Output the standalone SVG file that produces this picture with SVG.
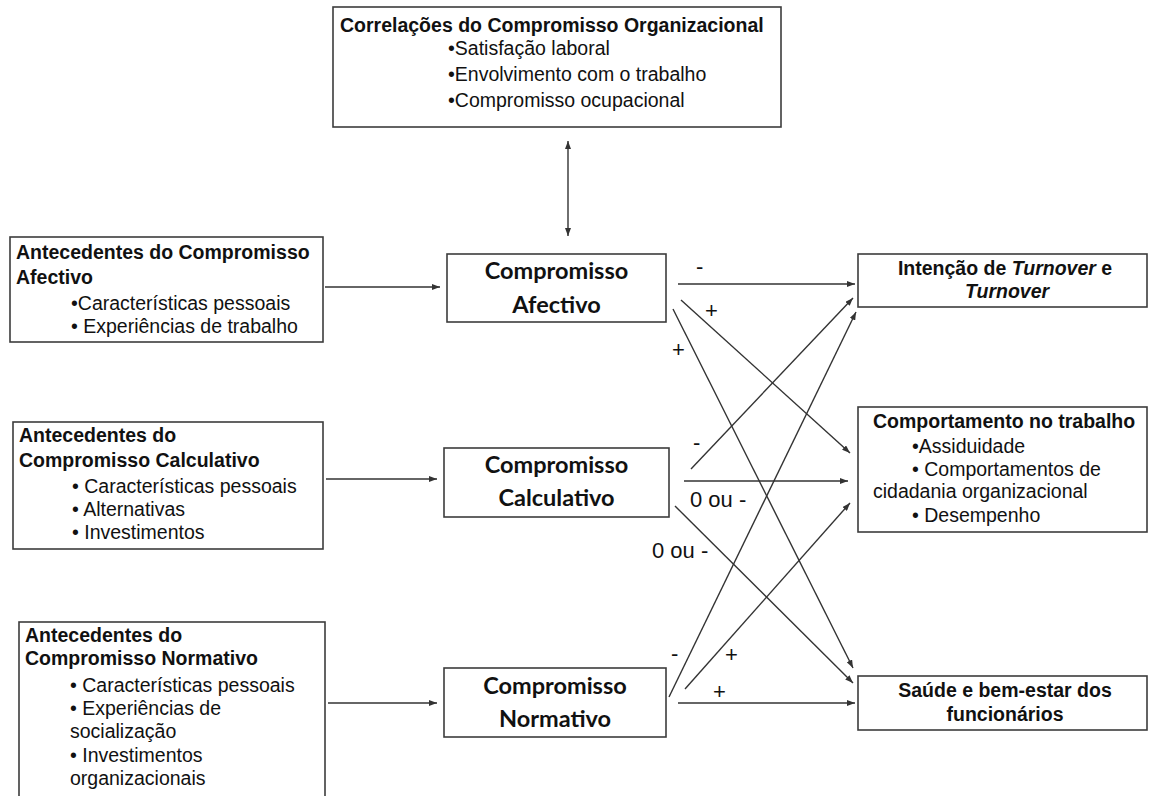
<svg xmlns="http://www.w3.org/2000/svg" width="1150" height="796" viewBox="0 0 1150 796">
<style>
.box{fill:#fff;stroke:#3c3c3c;stroke-width:1.6}
.t{font-family:"Liberation Sans",Arial,sans-serif;font-size:19.5px;fill:#111}
.b{font-weight:bold}
.c{font-family:Lato,"Open Sans",sans-serif;font-weight:bold;font-size:23.5px;fill:#111;text-anchor:middle}
.lab{font-family:"Liberation Sans",Arial,sans-serif;font-size:22px;fill:#111}
.ln{stroke:#333;stroke-width:1.4;fill:none;marker-end:url(#ah)}
</style>
<defs>
<marker id="ah" markerUnits="userSpaceOnUse" markerWidth="8" markerHeight="6" refX="8" refY="3" orient="auto-start-reverse">
<path d="M0,0 L8,3 L0,6 z" fill="#333"/>
</marker>
</defs>
<rect width="1150" height="796" fill="#fff"/>

<g id="correlacoes">
<rect class="box" x="333" y="7" width="448" height="120"/>
<text class="t b" x="340" y="32">Correlações do Compromisso Organizacional</text>
<text class="t" x="448" y="55">•Satisfação laboral</text>
<text class="t" x="448" y="81">•Envolvimento com o trabalho</text>
<text class="t" x="448" y="107">•Compromisso ocupacional</text>
</g>

<g id="ant-afectivo">
<rect class="box" x="10" y="237" width="313" height="105"/>
<text class="t b" x="16" y="259">Antecedentes do Compromisso</text>
<text class="t b" x="16" y="284">Afectivo</text>
<text class="t" x="71" y="310">•Características pessoais</text>
<text class="t" x="71" y="333">• Experiências de trabalho</text>
</g>

<g id="ant-calculativo">
<rect class="box" x="13" y="422" width="310" height="127"/>
<text class="t b" x="19" y="442">Antecedentes do</text>
<text class="t b" x="19" y="467">Compromisso Calculativo</text>
<text class="t" x="72" y="493">• Características pessoais</text>
<text class="t" x="72" y="516">• Alternativas</text>
<text class="t" x="72" y="539">• Investimentos</text>
</g>

<g id="ant-normativo">
<rect class="box" x="19" y="622" width="306" height="185"/>
<text class="t b" x="25" y="642">Antecedentes do</text>
<text class="t b" x="25" y="665">Compromisso Normativo</text>
<text class="t" x="70" y="692">• Características pessoais</text>
<text class="t" x="70" y="715">• Experiências de</text>
<text class="t" x="70" y="738">socialização</text>
<text class="t" x="70" y="762">• Investimentos</text>
<text class="t" x="70" y="785">organizacionais</text>
</g>

<g id="comp-afectivo">
<rect class="box" x="447" y="254" width="219" height="68"/>
<text class="c" x="556.5" y="279">Compromisso</text>
<text class="c" x="556.5" y="313">Afectivo</text>
</g>

<g id="comp-calculativo">
<rect class="box" x="444" y="448" width="225" height="69"/>
<text class="c" x="556.5" y="473">Compromisso</text>
<text class="c" x="556.5" y="506">Calculativo</text>
</g>

<g id="comp-normativo">
<rect class="box" x="444" y="668" width="222" height="69"/>
<text class="c" x="555" y="694">Compromisso</text>
<text class="c" x="555" y="727">Normativo</text>
</g>

<g id="turnover">
<rect class="box" x="858" y="254" width="289" height="53"/>
<text class="t b" x="1005" y="275" text-anchor="middle">Intenção de <tspan font-style="italic">Turnover</tspan> e</text>
<text class="t b" x="1007" y="298" text-anchor="middle" font-style="italic">Turnover</text>
</g>

<g id="comportamento">
<rect class="box" x="858" y="407" width="289" height="125"/>
<text class="t b" x="873" y="428">Comportamento no trabalho</text>
<text class="t" x="912" y="453">•Assiduidade</text>
<text class="t" x="912" y="476">• Comportamentos de</text>
<text class="t" x="873" y="498">cidadania organizacional</text>
<text class="t" x="912" y="522">• Desempenho</text>
</g>

<g id="saude">
<rect class="box" x="858" y="676" width="289" height="54"/>
<text class="t b" x="1005" y="697" text-anchor="middle">Saúde e bem-estar dos</text>
<text class="t b" x="1005" y="721" text-anchor="middle">funcionários</text>
</g>

<g id="connectors">
<line class="ln" x1="568" y1="141" x2="568" y2="236" style="marker-start:url(#ah)"/>
<line class="ln" x1="325" y1="287" x2="440" y2="287"/>
<line class="ln" x1="326" y1="479" x2="437" y2="479"/>
<line class="ln" x1="328" y1="703" x2="437" y2="703"/>

<line class="ln" x1="678" y1="284" x2="855" y2="284"/>
<line class="ln" x1="681" y1="300" x2="850" y2="453"/>
<line class="ln" x1="673" y1="309" x2="853" y2="668"/>

<line class="ln" x1="691" y1="469" x2="853" y2="298"/>
<line class="ln" x1="684" y1="481" x2="848" y2="481"/>
<line class="ln" x1="675" y1="506" x2="853" y2="683"/>

<line class="ln" x1="669" y1="697" x2="856" y2="312"/>
<line class="ln" x1="685" y1="689" x2="850" y2="503"/>
<line class="ln" x1="678" y1="703" x2="855" y2="703"/>

<text class="lab" x="696" y="274">-</text>
<text class="lab" x="705" y="318">+</text>
<text class="lab" x="672" y="357">+</text>
<text class="lab" x="693" y="450">-</text>
<text class="lab" x="690" y="507">0 ou -</text>
<text class="lab" x="652" y="558">0 ou -</text>
<text class="lab" x="671" y="661">-</text>
<text class="lab" x="725" y="662">+</text>
<text class="lab" x="713" y="699">+</text>
</g>
</svg>
